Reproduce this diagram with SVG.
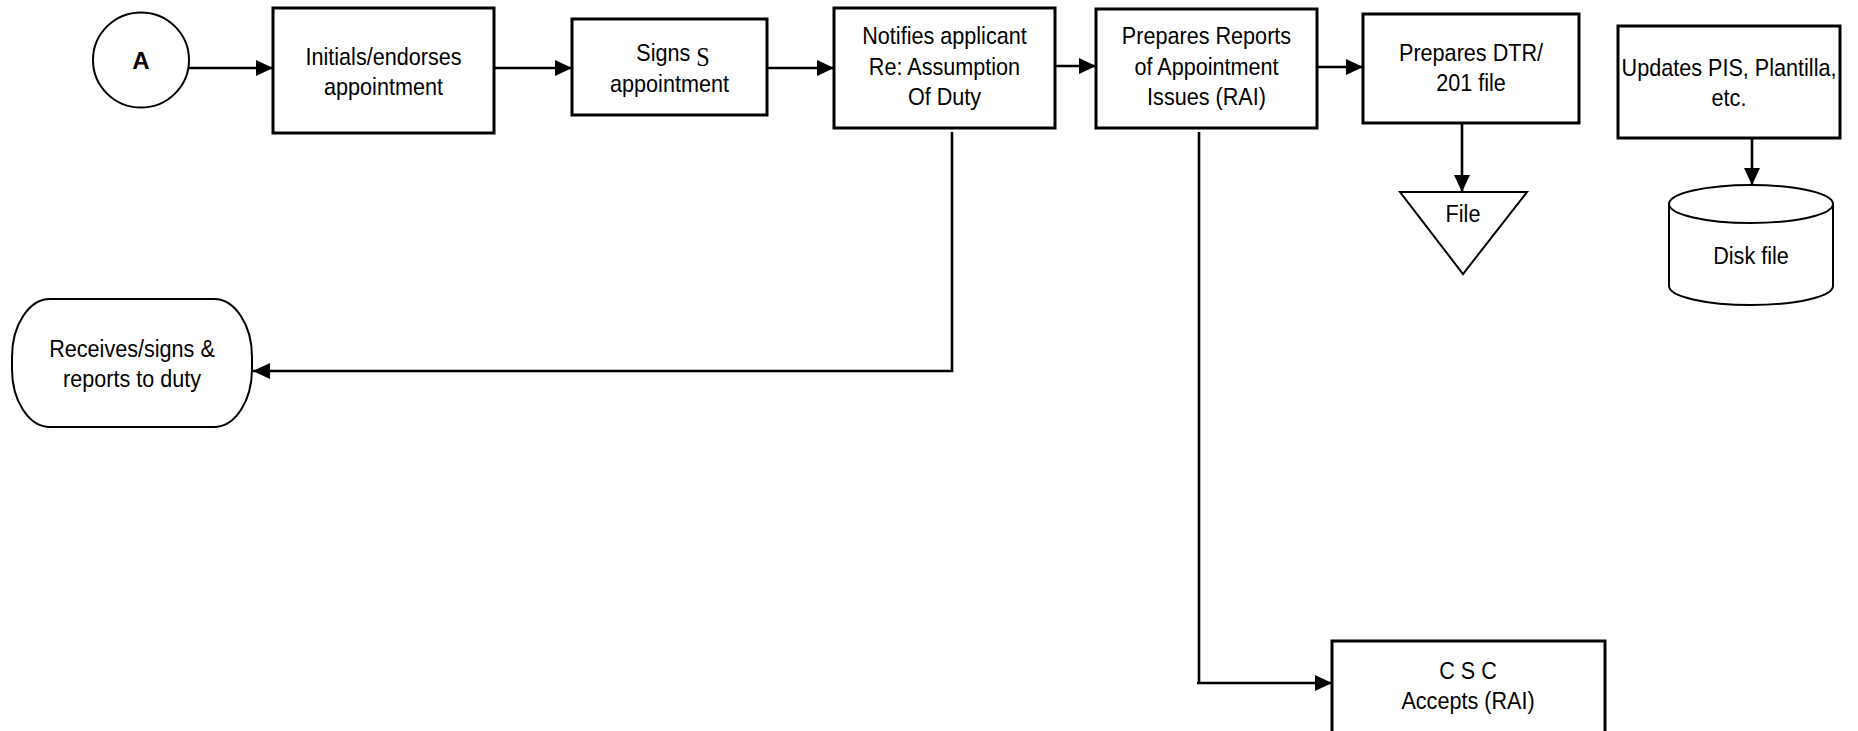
<svg xmlns="http://www.w3.org/2000/svg" width="1858" height="731" viewBox="0 0 1858 731">
<style>
text{font-family:"Liberation Sans",Arial,sans-serif;font-size:24px;fill:#000;text-anchor:middle}
.box{fill:#fff;stroke:#000;stroke-width:3}
.thin{fill:#fff;stroke:#000;stroke-width:2}
.conn{fill:none;stroke:#000;stroke-width:2.6}
</style>
<defs>
<marker id="arr" markerUnits="userSpaceOnUse" markerWidth="18" markerHeight="16" refX="17" refY="8" orient="auto">
<path d="M0,0 L17,8 L0,16 Z" fill="#000"/>
</marker>
</defs>
<g id="connectors">
<line class="conn" x1="189" y1="68" x2="273" y2="68" marker-end="url(#arr)"/>
<line class="conn" x1="494" y1="68" x2="572" y2="68" marker-end="url(#arr)"/>
<line class="conn" x1="767" y1="68" x2="834" y2="68" marker-end="url(#arr)"/>
<line class="conn" x1="1055" y1="66" x2="1096" y2="66" marker-end="url(#arr)"/>
<line class="conn" x1="1317" y1="67" x2="1363" y2="67" marker-end="url(#arr)"/>
<line class="conn" x1="1462" y1="123" x2="1462" y2="192" marker-end="url(#arr)"/>
<line class="conn" x1="1752" y1="138" x2="1752" y2="185" marker-end="url(#arr)"/>
<polyline class="conn" points="952,132 952,371 253,371" marker-end="url(#arr)"/>
<polyline class="conn" points="1199,132 1199,683 1197,683 1332,683" marker-end="url(#arr)"/>
</g>
<g id="nodeA">
<ellipse class="thin" cx="141" cy="60" rx="48" ry="47.5"/>
<text x="141" y="69" font-weight="bold">A</text>
</g>
<g id="initials">
<rect class="box" x="273" y="8" width="221" height="125"/>
<text transform="translate(383.5,65) scale(0.9,1)">Initials/endorses</text>
<text transform="translate(383.5,95) scale(0.9,1)">appointment</text>
</g>
<g id="signs">
<rect class="box" x="572" y="19" width="195" height="96"/>
<text transform="translate(673,61) scale(0.9,1)"><tspan>Signs </tspan><tspan font-family="'Liberation Serif',serif" font-size="27" dy="5">S</tspan></text>
<text transform="translate(669.5,92) scale(0.9,1)">appointment</text>
</g>
<g id="notifies">
<rect class="box" x="834" y="8" width="221" height="120"/>
<text transform="translate(944.5,44) scale(0.9,1)">Notifies applicant</text>
<text transform="translate(944.5,74.5) scale(0.9,1)">Re: Assumption</text>
<text transform="translate(944.5,105) scale(0.9,1)">Of Duty</text>
</g>
<g id="rai">
<rect class="box" x="1096" y="9" width="221" height="119"/>
<text transform="translate(1206.5,44) scale(0.9,1)">Prepares Reports</text>
<text transform="translate(1206.5,74.5) scale(0.9,1)">of Appointment</text>
<text transform="translate(1206.5,105) scale(0.9,1)">Issues (RAI)</text>
</g>
<g id="dtr">
<rect class="box" x="1363" y="14" width="216" height="109"/>
<text transform="translate(1471,61) scale(0.9,1)">Prepares DTR/</text>
<text transform="translate(1471,91) scale(0.9,1)">201 file</text>
</g>
<g id="file">
<polygon class="thin" points="1400,192 1527,192 1463,274"/>
<text transform="translate(1463,222) scale(0.9,1)">File</text>
</g>
<g id="updates">
<rect class="box" x="1618" y="26" width="222" height="112"/>
<text transform="translate(1729,76) scale(0.9,1)">Updates PIS, Plantilla,</text>
<text transform="translate(1729,106) scale(0.9,1)">etc.</text>
</g>
<g id="disk">
<path class="thin" d="M1669,204 A82,19 0 0,1 1833,204 V286 A82,19 0 0,1 1669,286 Z"/>
<path class="thin" fill="none" d="M1669,204 A82,19 0 0,0 1833,204"/>
<text transform="translate(1751,264) scale(0.9,1)">Disk file</text>
</g>
<g id="receives">
<rect class="thin" x="12" y="299" width="240" height="128" rx="38" ry="58"/>
<text transform="translate(132,357) scale(0.9,1)">Receives/signs &amp;</text>
<text transform="translate(132,387) scale(0.9,1)">reports to duty</text>
</g>
<g id="csc">
<rect class="box" x="1332" y="641" width="273" height="100"/>
<text transform="translate(1468,679) scale(0.9,1)">C S C</text>
<text transform="translate(1468,709) scale(0.9,1)">Accepts (RAI)</text>
</g>
</svg>
